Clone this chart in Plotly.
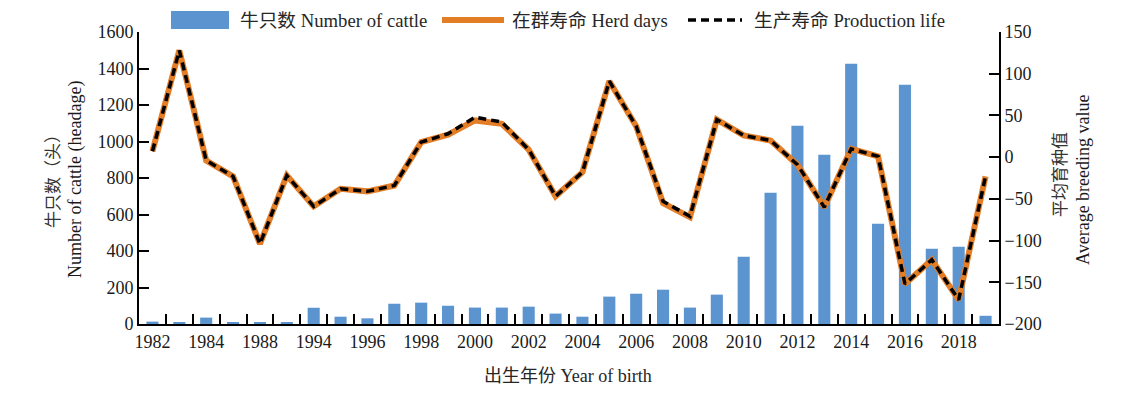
import plotly.graph_objects as go

# ---- data ----
years = ["1982", "1983", "1984", "1986", "1988", "1991", "1994", "1995", "1996", "1997",
         "1998", "1999", "2000", "2001", "2002", "2003", "2004", "2005", "2006", "2007",
         "2008", "2009", "2010", "2011", "2012", "2013", "2014", "2015", "2016", "2017",
         "2018", "2019"]
cattle = [13, 7, 35, 7, 7, 7, 89, 40, 31, 111,
          117, 100, 90, 90, 95, 57, 40, 150, 166, 188,
          90, 161, 369, 719, 1086, 927, 1426, 550, 1311, 412,
          423, 45]
herd_days = [7, 128, -4, -23, -104, -22, -59, -38, -41, -34,
             18, 27, 44, 40, 9, -47, -18, 91, 37, -55,
             -72, 45, 26, 20, -9, -60, 10, 1, -152, -123,
             -171, -23]
production_life = [7, 128, -4, -23, -104, -22, -59, -38, -41, -34,
                   18, 28, 48, 42, 9, -47, -18, 91, 37, -53,
                   -71, 45, 26, 20, -9, -60, 10, 1, -152, -123,
                   -171, -23]

legend_names = ["牛只数 Number of cattle", "在群寿命 Herd days", "生产寿命 Production life"]
left_title = ["牛只数（头）", "Number of cattle (headage)"]
right_title = ["平均育种值", "Average breeding value"]
x_title = "出生年份 Year of birth"

BLUE = "#5B94CF"
ORANGE = "#E37D26"
FONT = "Liberation Serif, Noto Sans CJK SC, serif"
TXT = "#1a1a1a"

idx = list(range(len(years)))

fig = go.Figure()
fig.add_trace(go.Bar(x=idx, y=cattle, width=0.45, marker=dict(color=BLUE, line=dict(width=0)),
                     name=legend_names[0], showlegend=False, yaxis="y"))
fig.add_trace(go.Scatter(x=idx, y=herd_days, mode="lines", line=dict(color=ORANGE, width=6),
                         name=legend_names[1], showlegend=False, yaxis="y2"))
fig.add_trace(go.Scatter(x=idx, y=production_life, mode="lines",
                         line=dict(color="black", width=3.5, dash="8px,5px"),
                         name=legend_names[2], showlegend=False, yaxis="y2"))

# page has an 8px body margin; figure sized so that it fits the 1135x396 window
OFF = 8
W, H = 1135 - OFF, 396 - OFF
L, R, T, B = 139 - OFF, 136, 32 - OFF, 72
pw, ph = W - L - R, H - T - B


def px2x(px):
    return (px - OFF - L) / pw


def py2y(py):
    return (OFF + T + ph - py) / ph


fig.update_layout(
    width=W, height=H,
    margin=dict(l=L, r=R, t=T, b=B),
    paper_bgcolor="white", plot_bgcolor="white",
    font=dict(family=FONT, size=18, color=TXT),
    showlegend=False,
    bargap=0.55,
    xaxis=dict(
        range=[-0.5, len(years) - 0.5],
        tickmode="array", tickvals=idx[::2], ticktext=years[::2],
        ticks="", showgrid=False, zeroline=False,
        showline=True, linecolor="black", linewidth=2,
        tickfont=dict(size=18, color=TXT),
        minor=dict(tickmode="array", tickvals=[i + 0.5 for i in idx[:-1]],
                   ticks="inside", ticklen=10, tickwidth=2, tickcolor="black", showgrid=False),
    ),
    yaxis=dict(
        range=[0, 1600], dtick=200, ticks="inside", ticklen=10, tickwidth=2, tickcolor="black",
        showline=True, linecolor="black", linewidth=2, showgrid=False, zeroline=False,
        tickfont=dict(size=18, color=TXT),
    ),
    yaxis2=dict(
        range=[-200, 150], dtick=50, overlaying="y", side="right",
        ticks="inside", ticklen=10, tickwidth=2, tickcolor="black",
        showline=True, linecolor="black", linewidth=2, showgrid=False, zeroline=False,
        tickfont=dict(size=18, color=TXT),
    ),
)

shapes = [
    dict(type="rect", xref="paper", yref="paper",
         x0=px2x(171), x1=px2x(229), y0=py2y(29), y1=py2y(11),
         fillcolor=BLUE, line=dict(width=0)),
    dict(type="line", xref="paper", yref="paper",
         x0=px2x(442), x1=px2x(504), y0=py2y(20), y1=py2y(20),
         line=dict(color=ORANGE, width=6)),
    dict(type="line", xref="paper", yref="paper",
         x0=px2x(688), x1=px2x(742), y0=py2y(20), y1=py2y(20),
         line=dict(color="black", width=3.5, dash="8px,5px")),
]
fig.update_layout(shapes=shapes)

ann = []
for txt, px in zip(legend_names, [238, 510, 752]):
    ann.append(dict(text=txt, xref="paper", yref="paper", x=px2x(px), y=py2y(20),
                    xanchor="left", yanchor="middle", showarrow=False,
                    font=dict(size=18.7, color="#262626", family=FONT)))
# axis titles
ann.append(dict(text=left_title[0], xref="paper", yref="paper", x=px2x(53), y=py2y(177),
                xanchor="center", yanchor="middle", textangle=-90, showarrow=False,
                font=dict(size=17, color="#333", family=FONT)))
ann.append(dict(text=left_title[1], xref="paper", yref="paper", x=px2x(75), y=py2y(180),
                xanchor="center", yanchor="middle", textangle=-90, showarrow=False,
                font=dict(size=18, color=TXT, family=FONT)))
ann.append(dict(text=right_title[0], xref="paper", yref="paper", x=px2x(1060), y=py2y(175),
                xanchor="center", yanchor="middle", textangle=-90, showarrow=False,
                font=dict(size=17, color="#333", family=FONT)))
ann.append(dict(text=right_title[1], xref="paper", yref="paper", x=px2x(1083), y=py2y(180),
                xanchor="center", yanchor="middle", textangle=-90, showarrow=False,
                font=dict(size=18, color=TXT, family=FONT)))
ann.append(dict(text=x_title, xref="paper", yref="paper", x=px2x(568), y=py2y(376),
                xanchor="center", yanchor="middle", showarrow=False,
                font=dict(size=18, color="#262626", family=FONT)))
fig.update_layout(annotations=ann)

fig.write_html("out.html")
